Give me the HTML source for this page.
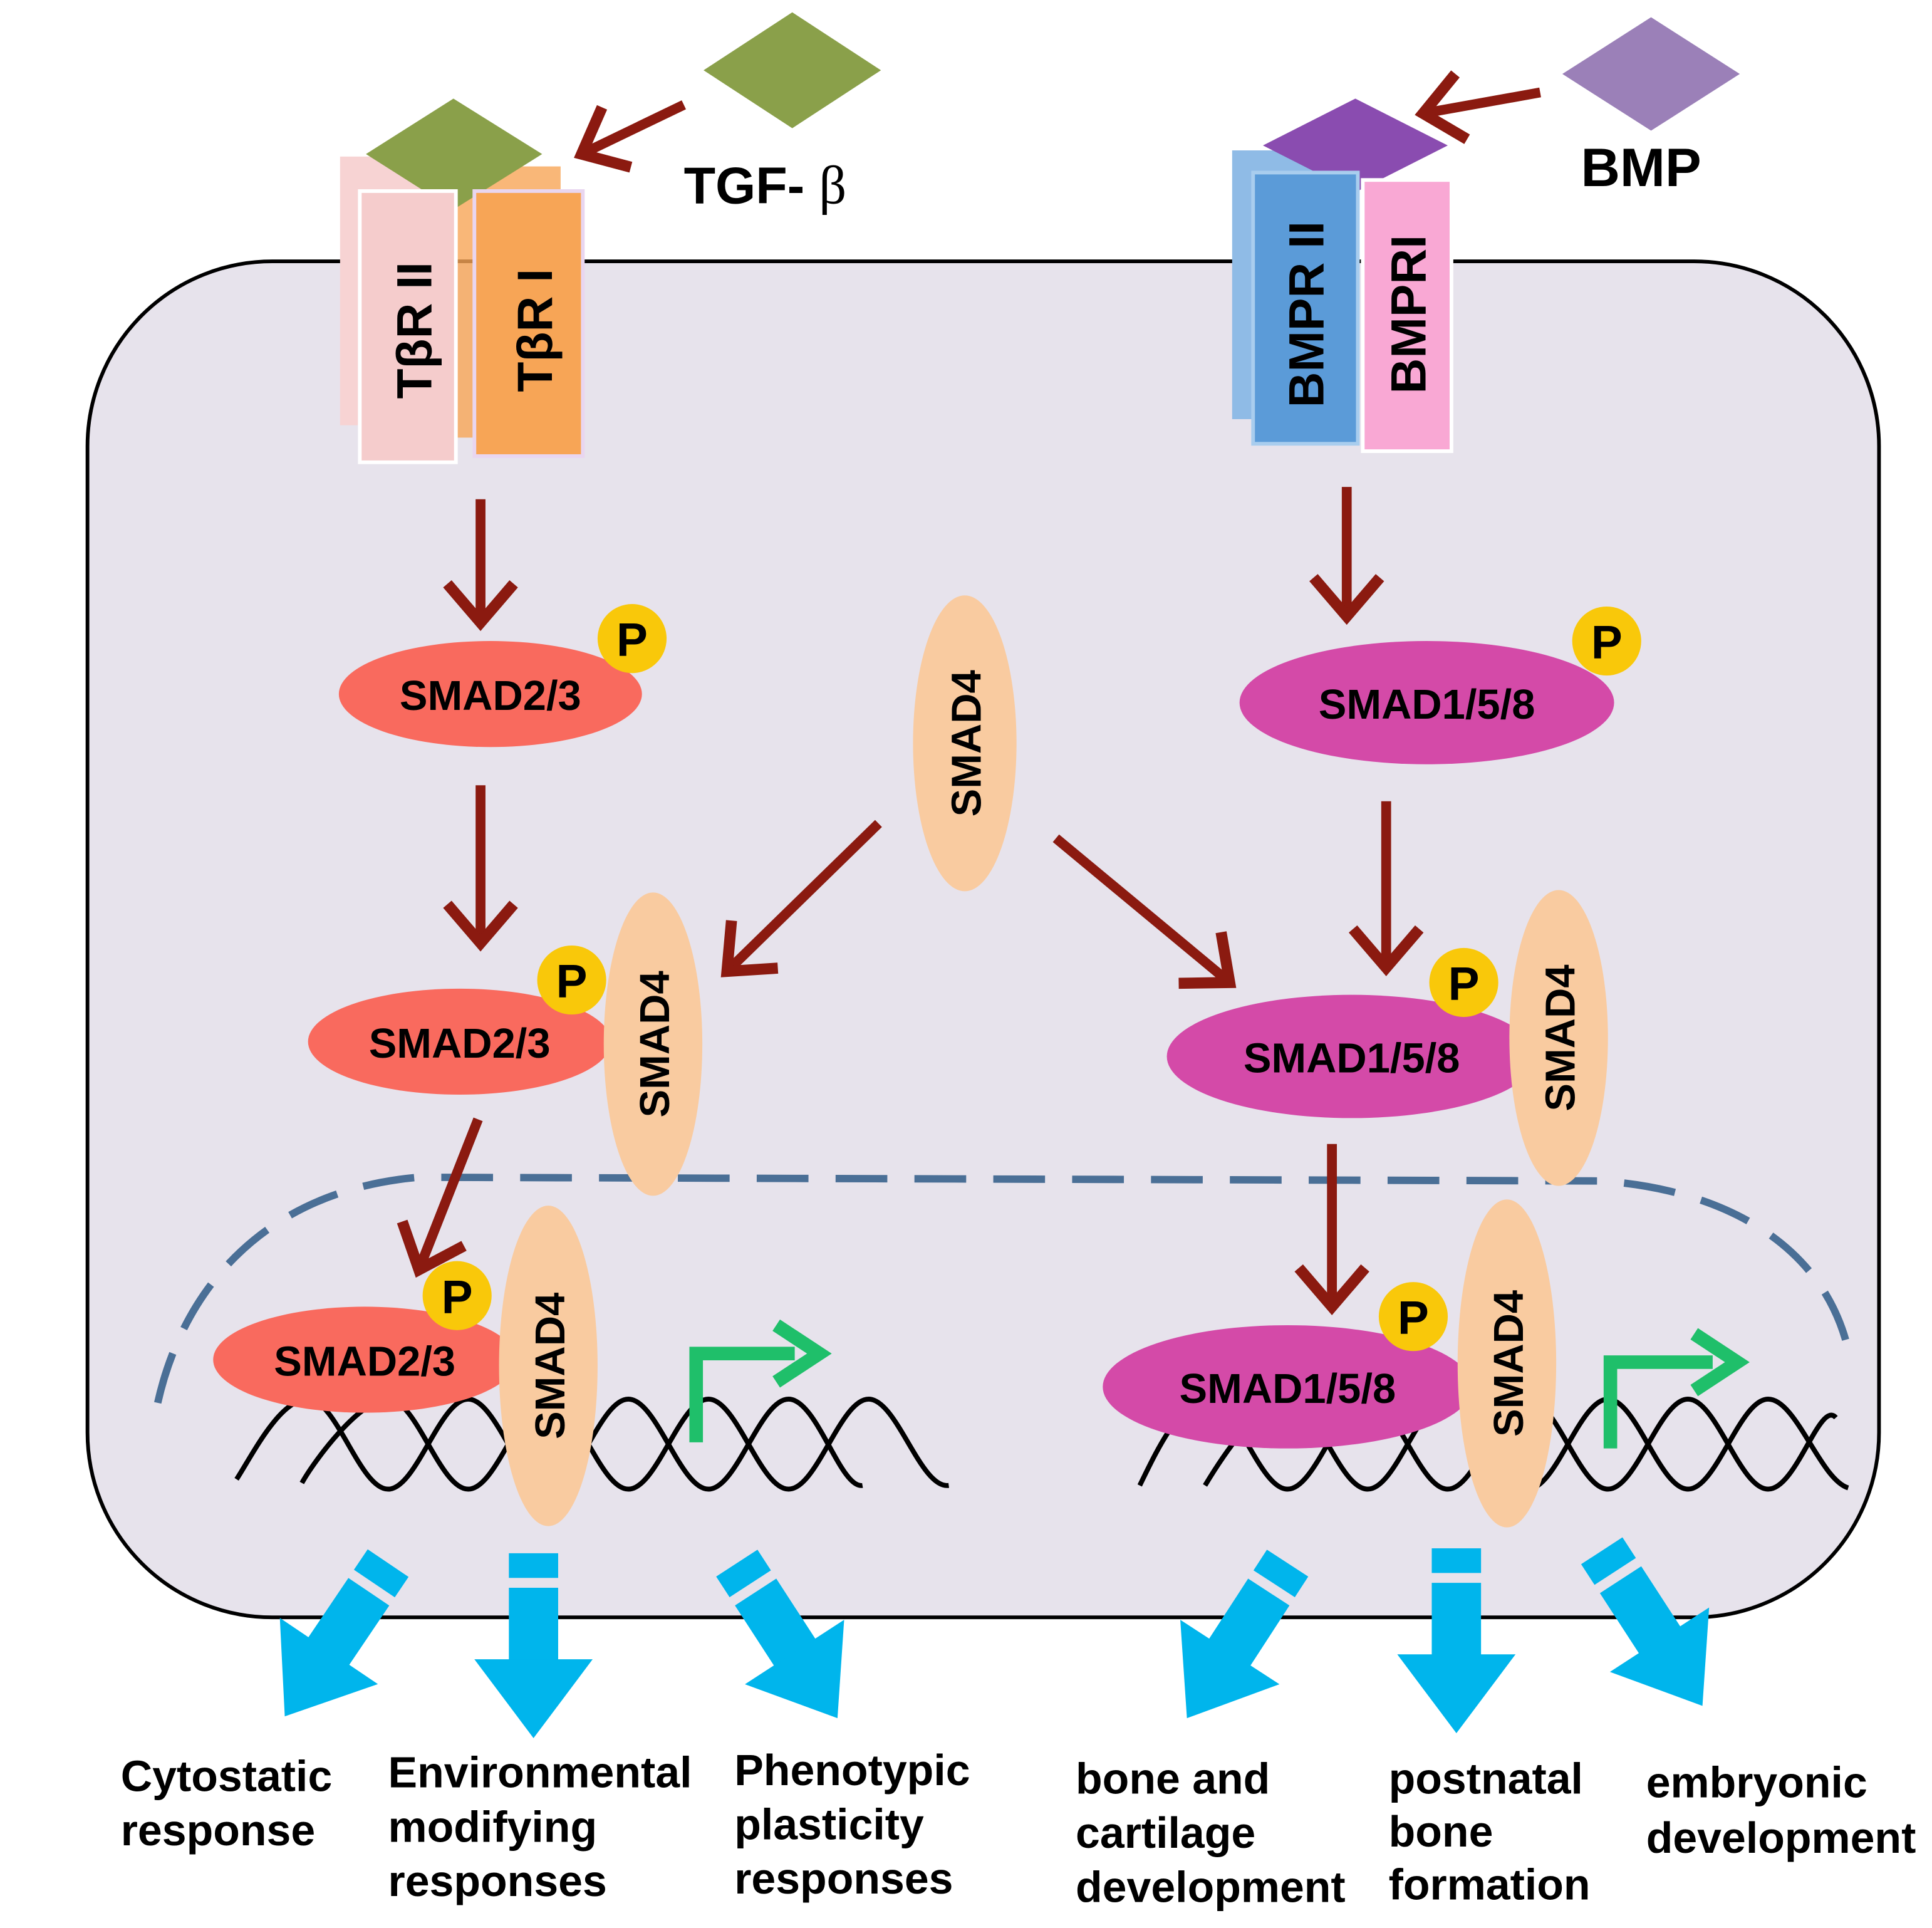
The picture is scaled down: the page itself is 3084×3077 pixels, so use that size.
<!DOCTYPE html>
<html><head><meta charset="utf-8"><style>
html,body{margin:0;padding:0;background:#fff}
svg{display:block}
text{font-family:"Liberation Sans",sans-serif;font-weight:bold}
</style></head><body>
<svg width="3084" height="3077" viewBox="0 0 1568 1564" preserveAspectRatio="none" xmlns="http://www.w3.org/2000/svg">
<defs>
<marker id="ah" markerUnits="userSpaceOnUse" markerWidth="80" markerHeight="80" refX="40" refY="40" orient="auto">
<path d="M12,16 L40,40 L12,64" fill="none" stroke="#8b1a10" stroke-width="9" stroke-linecap="square"/>
</marker>
<g id="ba">
<rect x="-20" y="0" width="40" height="20" fill="#00b5ec"/>
<rect x="-20" y="28" width="40" height="60" fill="#00b5ec"/>
<polygon points="-48,86 48,86 0,150" fill="#00b5ec"/>
</g>
</defs>
<rect x="0" y="0" width="1568" height="1564" fill="#fff"/>
<rect x="71" y="212" width="1454" height="1100" rx="150" ry="150" fill="#e7e3ec" stroke="#000" stroke-width="3"/>
<path d="M128,1138 C150,1040 220,965 340,955 L1300,958 C1400,965 1480,1010 1500,1095" fill="none" stroke="#4a6f96" stroke-width="6" stroke-dasharray="42 22"/>

<rect x="276" y="127" width="94" height="218" fill="#f7d3d3"/>
<rect x="370" y="135" width="85" height="220" fill="#f7a556" opacity="0.8"/>
<polygon points="297,125 368,80 440,125 368,170" fill="#8aa04a"/>
<rect x="292" y="155" width="78" height="220" fill="#f5cccc" stroke="#fff" stroke-width="3"/>
<rect x="385" y="155" width="88" height="215" fill="#f7a556" stroke="#e9d6f0" stroke-width="3"/>
<text transform="translate(350,268) rotate(-90)" font-size="40" text-anchor="middle">TβR II</text>
<text transform="translate(448,268) rotate(-90)" font-size="40" text-anchor="middle">TβR I</text>
<polygon points="571,57 643,10 715,57 643,104" fill="#8aa04a"/>
<line x1="555" y1="85" x2="472" y2="125" stroke="#8b1a10" stroke-width="8" marker-end="url(#ah)"/>
<text x="555" y="165" font-size="42">TGF- <tspan font-family="Liberation Serif" font-weight="normal" font-size="44">β</tspan></text>

<rect x="1000" y="122" width="100" height="218" fill="#8fbbe6"/>
<polygon points="1025,118 1100,80 1175,118 1100,156" fill="#8a4cb0"/>
<rect x="1017" y="140" width="85" height="220" fill="#5b9bd8" stroke="#a9cdee" stroke-width="3"/>
<rect x="1106" y="146" width="72" height="220" fill="#f9a8d4" stroke="#fff" stroke-width="3"/>
<text transform="translate(1074,255) rotate(-90)" font-size="40" text-anchor="middle">BMPR II</text>
<text transform="translate(1157,255) rotate(-90)" font-size="40" text-anchor="middle">BMPRI</text>
<polygon points="1268,60 1340,14 1412,60 1340,106" fill="#9b80b8"/>
<line x1="1250" y1="75" x2="1155" y2="92" stroke="#8b1a10" stroke-width="8" marker-end="url(#ah)"/>
<text x="1283" y="151" font-size="44">BMP</text>

<g stroke="#8b1a10" stroke-width="8" marker-end="url(#ah)">
<line x1="390" y1="405" x2="390" y2="505"/>
<line x1="1093" y1="395" x2="1093" y2="500"/>
<line x1="390" y1="637" x2="390" y2="765"/>
<line x1="713" y1="668" x2="590" y2="788"/>
<line x1="857" y1="680" x2="998" y2="797"/>
<line x1="1125" y1="650" x2="1125" y2="785"/>
<line x1="388" y1="908" x2="340" y2="1030"/>
<line x1="1081" y1="928" x2="1081" y2="1060"/>
</g>

<ellipse cx="398" cy="563" rx="123" ry="43" fill="#f96a5e"/>
<text x="398" y="576" font-size="34" text-anchor="middle">SMAD2/3</text>
<circle cx="513" cy="518" r="28" fill="#f9c80a"/><text x="513" y="532" font-size="38" text-anchor="middle">P</text>
<ellipse cx="783" cy="603" rx="42" ry="120" fill="#f9cba0"/>
<text transform="translate(796,603) rotate(-90)" font-size="34" text-anchor="middle">SMAD4</text>
<ellipse cx="1158" cy="570" rx="152" ry="50" fill="#d44aa8"/>
<text x="1158" y="583" font-size="34" text-anchor="middle">SMAD1/5/8</text>
<circle cx="1304" cy="520" r="28" fill="#f9c80a"/><text x="1304" y="534" font-size="38" text-anchor="middle">P</text>

<ellipse cx="373" cy="845" rx="123" ry="43" fill="#f96a5e"/>
<text x="373" y="858" font-size="34" text-anchor="middle">SMAD2/3</text>
<ellipse cx="530" cy="847" rx="40" ry="123" fill="#f9cba0"/>
<text transform="translate(543,847) rotate(-90)" font-size="34" text-anchor="middle">SMAD4</text>
<circle cx="464" cy="795" r="28" fill="#f9c80a"/><text x="464" y="809" font-size="38" text-anchor="middle">P</text>
<ellipse cx="1097" cy="857" rx="150" ry="50" fill="#d44aa8"/>
<text x="1097" y="870" font-size="34" text-anchor="middle">SMAD1/5/8</text>
<ellipse cx="1265" cy="842" rx="40" ry="120" fill="#f9cba0"/>
<text transform="translate(1278,842) rotate(-90)" font-size="34" text-anchor="middle">SMAD4</text>
<circle cx="1188" cy="797" r="28" fill="#f9c80a"/><text x="1188" y="811" font-size="38" text-anchor="middle">P</text>

<g fill="none" stroke="#000" stroke-width="4">
<path d="M192,1200 C205,1180 227,1135 250,1135 S292,1208 315,1208 S357,1135 380,1135 S422,1208 445,1208 S487,1135 510,1135 S552,1208 575,1208 S617,1135 640,1135 S682,1208 700,1205"/>
<path d="M245,1203 C255,1185 292,1135 315,1135 S357,1208 380,1208 S422,1135 445,1135 S487,1208 510,1208 S552,1135 575,1135 S617,1208 640,1208 S682,1135 705,1135 S747,1208 770,1205"/>
<path d="M925,1205 C935,1185 957,1135 980,1135 S1022,1208 1045,1208 S1087,1135 1110,1135 S1152,1208 1175,1208 S1217,1135 1240,1135 S1282,1208 1305,1208 S1347,1135 1370,1135 S1412,1208 1435,1208 S1477,1135 1490,1150"/>
<path d="M978,1205 C990,1185 1022,1135 1045,1135 S1087,1208 1110,1208 S1152,1135 1175,1135 S1217,1208 1240,1208 S1282,1135 1305,1135 S1347,1208 1370,1208 S1412,1135 1435,1135 S1477,1200 1500,1207"/>
</g>

<ellipse cx="296" cy="1103" rx="123" ry="43" fill="#f96a5e"/>
<text x="296" y="1116" font-size="34" text-anchor="middle">SMAD2/3</text>
<ellipse cx="445" cy="1108" rx="40" ry="130" fill="#f9cba0"/>
<text transform="translate(458,1108) rotate(-90)" font-size="34" text-anchor="middle">SMAD4</text>
<circle cx="371" cy="1051" r="28" fill="#f9c80a"/><text x="371" y="1065" font-size="38" text-anchor="middle">P</text>
<ellipse cx="1045" cy="1125" rx="150" ry="50" fill="#d44aa8"/>
<text x="1045" y="1138" font-size="34" text-anchor="middle">SMAD1/5/8</text>
<ellipse cx="1223" cy="1106" rx="40" ry="133" fill="#f9cba0"/>
<text transform="translate(1236,1106) rotate(-90)" font-size="34" text-anchor="middle">SMAD4</text>
<circle cx="1147" cy="1068" r="28" fill="#f9c80a"/><text x="1147" y="1082" font-size="38" text-anchor="middle">P</text>

<g fill="none" stroke="#1fbf6a" stroke-width="11">
<path d="M565,1170 L565,1098 L645,1098"/>
<path d="M630,1075 L665,1098 L630,1121"/>
<path d="M1307,1175 L1307,1105 L1390,1105"/>
<path d="M1375,1082 L1410,1105 L1375,1128"/>
</g>

<use href="#ba" transform="translate(315,1268) rotate(34)"/>
<use href="#ba" transform="translate(433,1260) rotate(0)"/>
<use href="#ba" transform="translate(598,1268) rotate(-33)"/>
<use href="#ba" transform="translate(1045,1268) rotate(33)"/>
<use href="#ba" transform="translate(1182,1256) rotate(0)"/>
<use href="#ba" transform="translate(1300,1258) rotate(-33)"/>

<g font-size="35.5">
<text x="98" y="1453">Cytostatic</text><text x="98" y="1497">response</text>
<text x="315" y="1450">Environmental</text><text x="315" y="1494">modifying</text><text x="315" y="1538">responses</text>
<text x="596" y="1448">Phenotypic</text><text x="596" y="1492">plasticity</text><text x="596" y="1536">responses</text>
<text x="873" y="1455">bone and</text><text x="873" y="1499">cartilage</text><text x="873" y="1543">development</text>
<text x="1127" y="1455">postnatal</text><text x="1127" y="1498">bone</text><text x="1127" y="1541">formation</text>
<text x="1336" y="1458">embryonic</text><text x="1336" y="1503">development</text>
</g>
</svg>
</body></html>
